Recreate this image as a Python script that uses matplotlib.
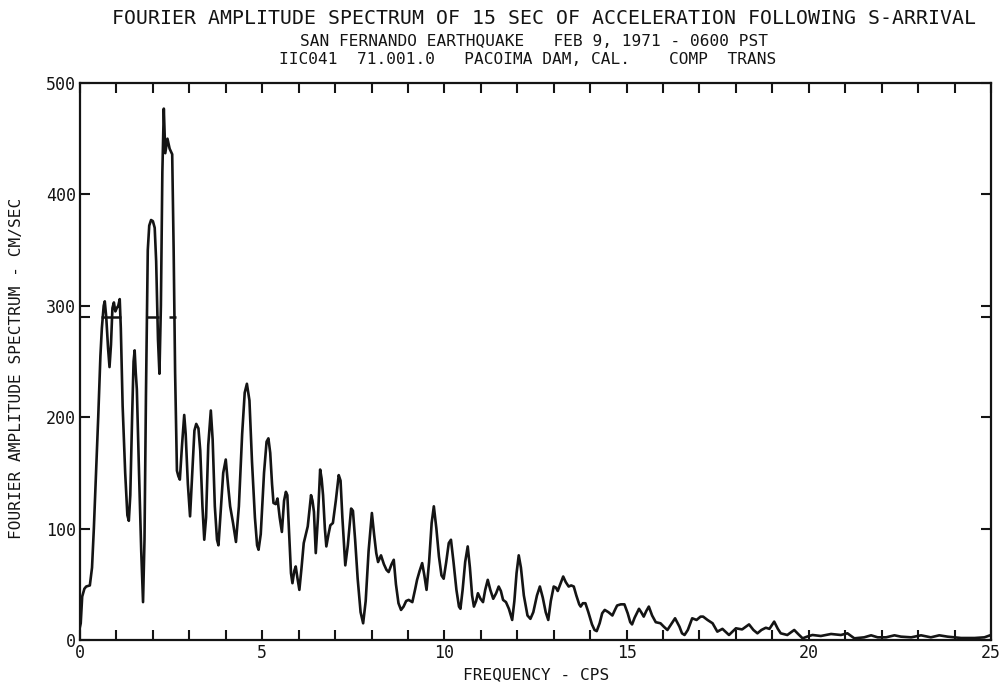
import numpy as np
import matplotlib
matplotlib.use("Agg")
import matplotlib.pyplot as plt
from matplotlib.ticker import MultipleLocator, FixedLocator

# ---- data ----
freq = [0.00, 0.02, 0.06, 0.12, 0.17, 0.27, 0.33, 0.38, 0.44, 0.50, 0.56, 0.60, 0.65, 0.68,
        0.72, 0.77, 0.81, 0.85, 0.89, 0.93, 0.97, 1.01, 1.05, 1.09, 1.12, 1.17, 1.24, 1.30,
        1.34, 1.38, 1.43, 1.47, 1.50, 1.53, 1.56, 1.62, 1.68, 1.73, 1.77, 1.81, 1.86, 1.90,
        1.95, 2.00, 2.05, 2.09, 2.14, 2.18, 2.22, 2.26, 2.30, 2.34, 2.40, 2.46, 2.53, 2.57,
        2.61, 2.66, 2.70, 2.74, 2.80, 2.86, 2.90, 2.96, 3.02, 3.08, 3.14, 3.19, 3.25, 3.30,
        3.36, 3.41, 3.46, 3.52, 3.59, 3.64, 3.70, 3.76, 3.80, 3.86, 3.93, 4.00, 4.06, 4.12,
        4.20, 4.28, 4.36, 4.45, 4.52, 4.58, 4.65, 4.72, 4.80, 4.86, 4.90, 4.96, 5.05, 5.12,
        5.17, 5.22, 5.27, 5.31, 5.37, 5.42, 5.48, 5.54, 5.60, 5.65, 5.69, 5.74, 5.79, 5.83,
        5.88, 5.92, 5.97, 6.02, 6.08, 6.14, 6.20, 6.25, 6.30, 6.34, 6.38, 6.42, 6.47, 6.53,
        6.59, 6.63, 6.67, 6.72, 6.76, 6.82, 6.87, 6.94, 7.02, 7.10, 7.15, 7.20, 7.28, 7.35,
        7.44, 7.49, 7.55, 7.62, 7.70, 7.77, 7.84, 7.92, 8.01, 8.07, 8.13, 8.18, 8.26, 8.34,
        8.41, 8.47, 8.55, 8.61, 8.67, 8.74, 8.81, 8.88, 8.95, 9.02, 9.12, 9.20, 9.25, 9.32,
        9.39, 9.45, 9.51, 9.58, 9.65, 9.71, 9.78, 9.85, 9.92, 9.98, 10.05, 10.12, 10.18, 10.25,
        10.33, 10.40, 10.44, 10.50, 10.57, 10.64, 10.70, 10.76, 10.81, 10.87, 10.92, 10.99,
        11.06, 11.12, 11.19, 11.26, 11.34, 11.42, 11.49, 11.55, 11.61, 11.69, 11.77, 11.86,
        11.92, 11.98, 12.04, 12.10, 12.18, 12.28, 12.36, 12.44, 12.54, 12.62, 12.70, 12.78,
        12.85, 12.92, 13.00, 13.06, 13.11, 13.18, 13.26, 13.33, 13.41, 13.48, 13.55, 13.62,
        13.70, 13.74, 13.80, 13.87, 13.95, 14.05, 14.12, 14.18, 14.26, 14.33, 14.40, 14.50,
        14.61, 14.68, 14.74, 14.84, 14.94, 15.03, 15.10, 15.15, 15.22, 15.34, 15.40, 15.47,
        15.54, 15.61, 15.70, 15.80, 15.93, 16.02, 16.12, 16.22, 16.33, 16.45, 16.52, 16.59,
        16.68, 16.80, 16.92, 17.03, 17.10, 17.22, 17.36, 17.49, 17.63, 17.81, 18.00, 18.17,
        18.36, 18.48, 18.59, 18.70, 18.82, 18.92, 19.05, 19.15, 19.23, 19.41, 19.60, 19.72,
        19.83, 19.95, 20.10, 20.33, 20.61, 20.88, 21.06, 21.25, 21.52, 21.71, 21.89, 22.12,
        22.35, 22.53, 22.81, 23.08, 23.35, 23.58, 23.81, 24.00, 24.18, 24.55, 24.82, 25.00]

amplitude = [12, 15, 39, 46, 48, 49, 65, 100, 150, 200, 255, 280, 300, 304,
             290, 262, 245, 265, 298, 303, 295, 298, 300, 306, 280, 210, 150, 112,
             107, 130, 200, 250, 260, 240, 225, 150, 80, 34, 90, 220, 350, 372,
             377, 376, 370, 340, 270, 239, 300, 420, 477, 437, 450, 441, 436, 350,
             240, 152, 147, 144, 175, 202, 185, 140, 111, 150, 188, 194, 190, 170,
             120, 90, 110, 175, 206, 180, 120, 90, 85, 115, 150, 162, 140, 120,
             105, 88, 120, 185, 222, 230, 215, 160, 110, 85, 81, 95, 150, 178,
             181, 168, 140, 123, 122, 127, 110, 97, 125, 133, 130, 95, 60, 51,
             62, 66, 55, 45, 65, 87, 95, 102, 118, 130, 125, 115, 78, 110,
             153, 145, 130, 100, 84, 95, 103, 105, 125, 148, 143, 110, 67, 85,
             118, 116, 90, 55, 25, 15, 35, 80, 114, 95, 78, 70, 76, 68,
             63, 61, 68, 72, 50, 33, 27, 30, 35, 36, 34, 46, 54, 62,
             69, 58, 45, 70, 105, 120, 100, 75, 58, 55, 70, 87, 90, 70,
             45, 30, 28, 45, 70, 84, 65, 40, 30, 35, 42, 37,
             34, 45, 54, 45, 37, 42, 48, 44, 36, 34, 28, 18,
             35, 60, 76, 65, 40, 22, 19, 25, 40, 48, 38, 25,
             18, 35, 48, 47, 44, 50, 57, 52, 48, 49, 48, 40,
             32, 30, 33, 33, 25, 14, 9, 8, 15, 24, 27, 25,
             22, 27, 31, 32, 32, 24, 16, 14, 20, 28, 25, 21,
             26, 30, 22, 16, 15, 12, 9, 14, 19.5, 12, 6, 4.5,
             9, 19.5, 18, 21, 21, 18, 15, 7.5, 10, 4.5, 10.5, 9.5,
             14, 9, 6, 9, 11, 10, 16.5, 10, 6, 4.5, 9, 5,
             1.5, 3, 4.5, 3.6, 5.4, 4.5, 6, 1.5, 2.4, 4.2, 2.4, 2.4,
             4.2, 3, 2.4, 4.2, 2.4, 4.2, 3, 2.4, 1.8, 1.8, 2.4, 4.5]

level = 290
level_start = [0.57, 1.83, 2.45]
level_end = [1.12, 2.16, 2.64]

x_ticks_labeled = [0, 5, 10, 15, 20, 25]
y_ticks = [0, 100, 200, 300, 400, 500]

title_lines = ["FOURIER AMPLITUDE SPECTRUM OF 15 SEC OF ACCELERATION FOLLOWING S-ARRIVAL",
               "SAN FERNANDO EARTHQUAKE   FEB 9, 1971 - 0600 PST",
               "IIC041  71.001.0   PACOIMA DAM, CAL.    COMP  TRANS"]
xlabel = "FREQUENCY - CPS"
ylabel = "FOURIER AMPLITUDE SPECTRUM - CM/SEC"

# ---- figure ----
plt.rcParams['font.family'] = ['DejaVu Sans Mono', 'DejaVu Sans']
W, H = 1006, 687
fig = plt.figure(figsize=(W / 100, H / 100), dpi=100)
ax = fig.add_axes([80 / W, 1 - 640 / H, (991 - 80) / W, (640 - 83) / H])

ink = '#141414'
ax.plot(freq, amplitude, color=ink, lw=1.9, solid_joinstyle='round')
ax.hlines([level] * len(level_start), level_start, level_end, color=ink, lw=1.8)

ax.set_xlim(0, 25)
ax.set_ylim(0, 500)

ax.xaxis.set_major_locator(FixedLocator(x_ticks_labeled))
ax.xaxis.set_minor_locator(MultipleLocator(1))
ax.yaxis.set_major_locator(FixedLocator(y_ticks))
ax.yaxis.set_minor_locator(FixedLocator([level]))
ax.set_xticklabels([str(v) for v in x_ticks_labeled])
ax.set_yticklabels([str(v) for v in y_ticks])

ax.tick_params(which='both', direction='in', top=True, right=True,
               length=7.5, width=1.5, color=ink, labelcolor=ink)
ax.tick_params(which='major', labelsize=12, pad=3)

for s in ax.spines.values():
    s.set_linewidth(1.6)
    s.set_color(ink)

fig.text(544 / W, 1 - 19 / H, title_lines[0], ha='center', va='center',
         fontsize=14.3, color=ink)
fig.text(534 / W, 1 - 42 / H, title_lines[1], ha='center', va='center',
         fontsize=11.6, color=ink)
fig.text(528 / W, 1 - 60 / H, title_lines[2], ha='center', va='center',
         fontsize=11.6, color=ink)
fig.text(536 / W, 1 - 675 / H, xlabel, ha='center', va='center',
         fontsize=11.6, color=ink)
fig.text(17 / W, 1 - 368 / H, ylabel, ha='center', va='center',
         rotation=90, fontsize=11.6, color=ink)

fig.savefig("out.png", dpi=100, facecolor='white')
